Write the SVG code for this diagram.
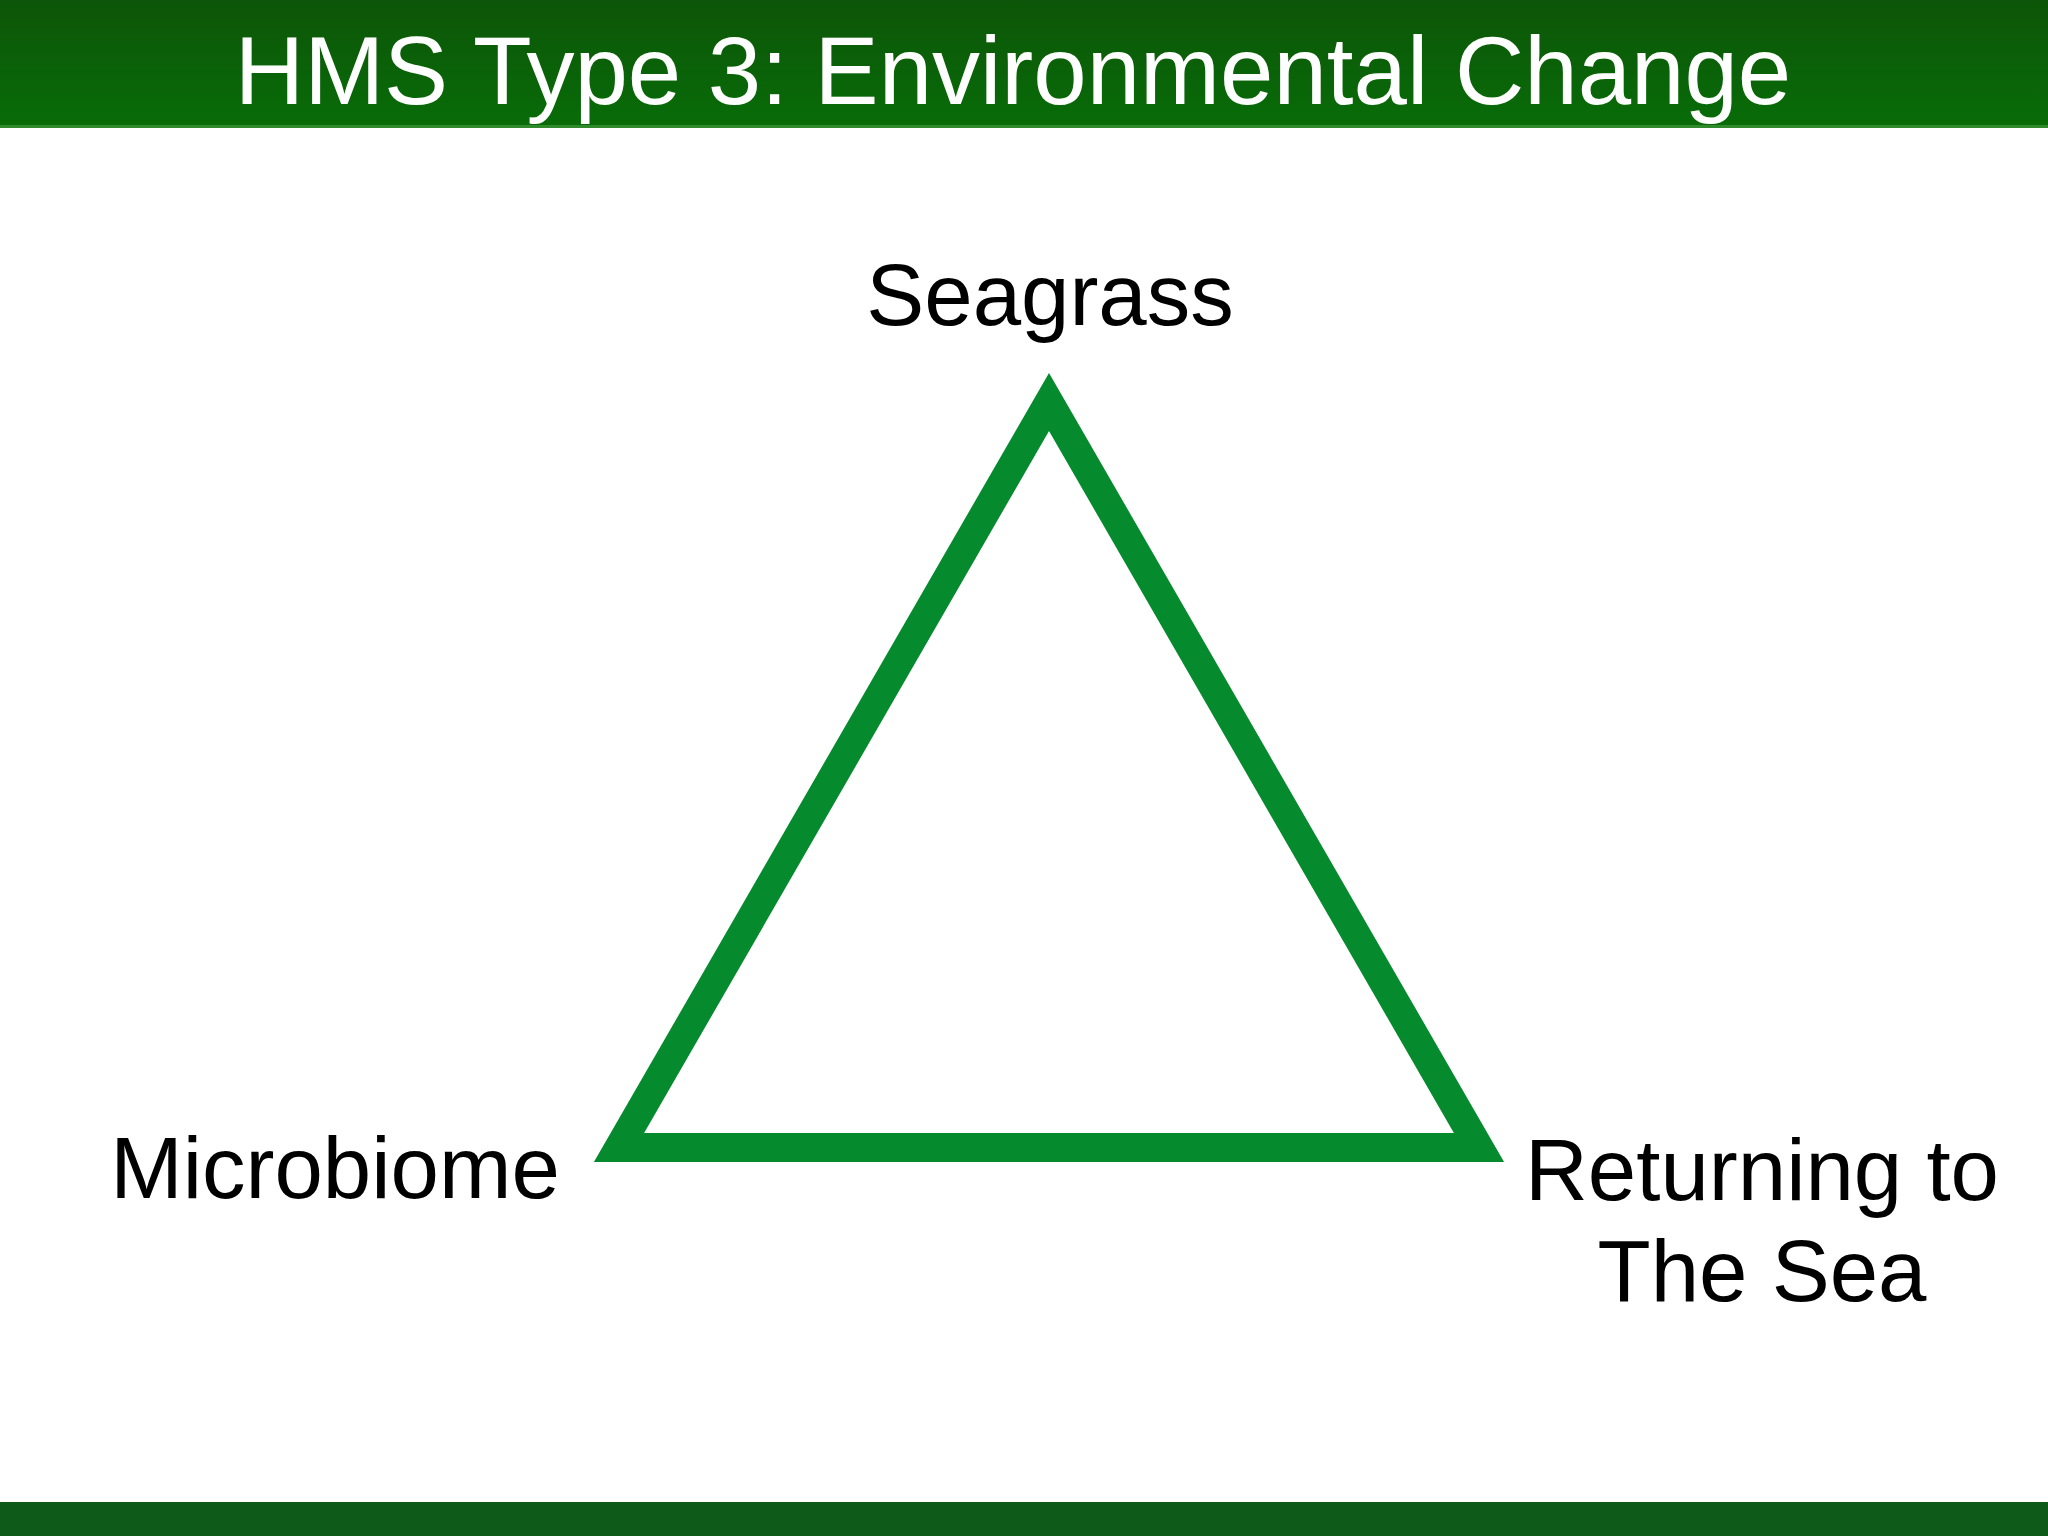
<svg xmlns="http://www.w3.org/2000/svg" width="2048" height="1536" viewBox="0 0 2048 1536">
  <defs>
    <linearGradient id="hdr" x1="0" y1="0" x2="0" y2="1">
      <stop offset="0" stop-color="#0d5508"/>
      <stop offset="1" stop-color="#086c08"/>
    </linearGradient>
  </defs>
  <style>
    .lbl { font-family: "Liberation Sans", Arial, sans-serif; font-size: 87px; fill: #000000; text-anchor: middle; }
    .title { font-family: "Liberation Sans", Arial, sans-serif; font-size: 96px; fill: #ffffff; text-anchor: middle; }
  </style>
  <rect x="0" y="0" width="2048" height="1536" fill="#ffffff"/>
  <g id="header">
    <rect x="0" y="0" width="2048" height="126" fill="url(#hdr)"/>
    <rect x="0" y="125" width="2048" height="3" fill="#2e8a2a"/>
    <text class="title" x="1013" y="104">HMS Type 3: Environmental Change</text>
  </g>
  <g id="footer">
    <rect x="0" y="1502" width="2048" height="34" fill="#0e5a18"/>
  </g>
  <g id="connectors">
    <polygon points="1049,402 619,1147.5 1479,1147.5" fill="none" stroke="#058a2e" stroke-width="29" stroke-linejoin="miter"/>
  </g>
  <g id="node-seagrass">
    <text class="lbl" x="1050" y="325">Seagrass</text>
  </g>
  <g id="node-microbiome">
    <text class="lbl" x="335" y="1198">Microbiome</text>
  </g>
  <g id="node-returning">
    <text class="lbl" x="1762" y="1200">Returning to</text>
    <text class="lbl" x="1762" y="1301">The Sea</text>
  </g>
</svg>
